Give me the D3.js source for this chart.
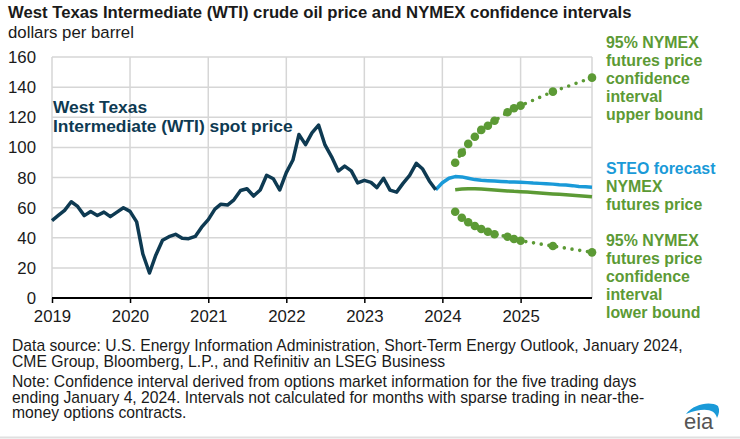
<!DOCTYPE html>
<html>
<head>
<meta charset="utf-8">
<script src="https://cdn.jsdelivr.net/npm/d3@7"></script>
<style>
  body { margin: 0; background: #fff; }
  svg { display: block; font-family: "Liberation Sans", Arial, sans-serif; }
</style>
</head>
<body>
<svg id="chart"></svg>
<script>
// monthly WTI spot price, Jan 2019 - Dec 2023
var wtiStart = '2019-01';
var wtiValues = [
  51.4, 55.0, 58.2, 63.9, 60.8, 54.7, 57.4, 54.8, 57.0, 54.0, 57.0, 59.9,
  57.5, 50.5, 29.2, 16.6, 28.6, 38.3, 40.7, 42.3, 39.6, 39.4, 40.9, 47.0,
  52.0, 59.0, 62.3, 61.7, 65.2, 71.4, 72.5, 67.7, 71.7, 81.5, 79.2, 71.7,
  83.2, 91.6, 108.5, 101.8, 109.6, 114.8, 101.6, 93.7, 84.3, 87.6, 84.4, 76.4,
  78.1, 76.8, 73.3, 79.5, 71.6, 70.3, 76.1, 81.4, 89.4, 85.6, 77.7, 71.9
];

// STEO forecast, Dec 2023 - Dec 2025
var steoStart = '2023-12';
var steoValues = [
  71.9, 76.5, 79.5, 80.6, 80.4, 79.5, 78.6, 78.1, 77.9, 77.6, 77.4, 77.1, 77.0,
  76.9, 76.6, 76.3, 76.1, 75.9, 75.6, 75.2, 75.0, 74.6, 74.1, 73.9, 73.6
];

// NYMEX futures price, Mar 2024 - Dec 2025
var nymexStart = '2024-03';
var nymexValues = [
  71.8, 72.3, 72.6, 72.6, 72.3, 72.0, 71.7, 71.4, 71.1, 70.8,
  70.6, 70.3, 70.0, 69.7, 69.4, 69.1, 68.8, 68.5, 68.2, 67.9, 67.6, 67.2
];

// 95% confidence bounds, only months with enough trading
var upperBound = [
  ['2024-03', 89.8], ['2024-04', 96.5], ['2024-05', 102.3], ['2024-06', 107.1],
  ['2024-07', 111.6], ['2024-08', 114.4], ['2024-09', 117.7], ['2024-11', 123.3],
  ['2024-12', 126.0], ['2025-01', 127.7], ['2025-06', 137.0], ['2025-12', 146.3]
];
var lowerBound = [
  ['2024-03', 57.3], ['2024-04', 53.3], ['2024-05', 50.3], ['2024-06', 47.8],
  ['2024-07', 45.8], ['2024-08', 44.0], ['2024-09', 42.3], ['2024-11', 40.7],
  ['2024-12', 39.2], ['2025-01', 38.0], ['2025-06', 34.5], ['2025-12', 30.3]
];

var yTicks = [0, 20, 40, 60, 80, 100, 120, 140, 160];
var xTicks = ['2019', '2020', '2021', '2022', '2023', '2024', '2025'];

var width = 740;
var height = 439;
var margins = { top: 57, right: 148, bottom: 141, left: 52 };

var colors = {
  wti: '#0e3a52',
  steo: '#1a9ad8',
  nymex: '#5c9a35',
  grid: '#d6d6d6',
  text: '#1a1a1a'
};

var parseMonth = d3.timeParse('%Y-%m');

function monthSeries(start, values) {
  var s = parseMonth(start);
  return values.map(function(v, i) {
    return { date: d3.timeMonth.offset(s, i), value: v };
  });
}

var wti = monthSeries(wtiStart, wtiValues);
var steo = monthSeries(steoStart, steoValues);
var nymex = monthSeries(nymexStart, nymexValues);
var upper = upperBound.map(function(d) { return { date: parseMonth(d[0]), value: d[1] }; });
var lower = lowerBound.map(function(d) { return { date: parseMonth(d[0]), value: d[1] }; });

var svg = d3.select('#chart')
  .attr('width', width)
  .attr('height', height);

var x = d3.scaleTime()
  .domain([parseMonth('2019-01'), parseMonth('2025-12')])
  .range([margins.left, width - margins.right]);

var y = d3.scaleLinear()
  .domain([0, 160])
  .range([height - margins.bottom, margins.top]);

// gridlines
var grid = svg.append('g').attr('class', 'grid');
grid.selectAll('.hgrid')
  .data(yTicks.slice(1))
  .enter().append('line')
  .attr('x1', x.range()[0]).attr('x2', x.range()[1])
  .attr('y1', function(d) { return y(d); })
  .attr('y2', function(d) { return y(d); })
  .attr('stroke', colors.grid)
  .attr('stroke-width', 1.5);

var vgrid = xTicks.map(function(d) { return parseMonth(d + '-01'); });
vgrid.push(x.domain()[1]);
grid.selectAll('.vgrid')
  .data(vgrid)
  .enter().append('line')
  .attr('x1', function(d) { return x(d); })
  .attr('x2', function(d) { return x(d); })
  .attr('y1', y(0)).attr('y2', y(160))
  .attr('stroke', colors.grid)
  .attr('stroke-width', 1.5);

// y axis labels
svg.append('g')
  .selectAll('text')
  .data(yTicks)
  .enter().append('text')
  .attr('x', 36)
  .attr('y', function(d) { return y(d) + 6; })
  .attr('text-anchor', 'end')
  .attr('font-size', 16.8)
  .attr('fill', colors.text)
  .text(function(d) { return d; });

// x axis
var xAxis = d3.axisBottom(x)
  .tickValues(xTicks.map(function(d) { return parseMonth(d + '-01'); }))
  .tickFormat(d3.timeFormat('%Y'))
  .tickSize(5)
  .tickPadding(7);

var xg = svg.append('g')
  .attr('transform', 'translate(0,' + y(0) + ')')
  .call(xAxis);
xg.select('.domain')
  .attr('d', 'M' + x.range()[0] + ',0H' + x.range()[1])
  .attr('stroke', '#000')
  .attr('stroke-width', 2);
xg.selectAll('.tick line').attr('stroke', '#000').attr('stroke-width', 1.5);
xg.selectAll('.tick text')
  .attr('font-size', 16.8)
  .attr('font-family', '"Liberation Sans", Arial, sans-serif')
  .attr('fill', colors.text);

var line = d3.line()
  .x(function(d) { return x(d.date); })
  .y(function(d) { return y(d.value); });

// confidence bounds: dotted connector + dots where calculated
[upper, lower].forEach(function(series) {
  svg.append('path')
    .datum(series)
    .attr('d', line)
    .attr('fill', 'none')
    .attr('stroke', colors.nymex)
    .attr('stroke-width', 3.6)
    .attr('stroke-linecap', 'round')
    .attr('stroke-dasharray', '0,7.8');

  svg.append('g')
    .selectAll('circle')
    .data(series)
    .enter().append('circle')
    .attr('cx', function(d) { return x(d.date); })
    .attr('cy', function(d) { return y(d.value); })
    .attr('r', 4.3)
    .attr('fill', colors.nymex);
});

svg.append('path')
  .datum(nymex)
  .attr('d', line)
  .attr('fill', 'none')
  .attr('stroke', colors.nymex)
  .attr('stroke-width', 3.5);

svg.append('path')
  .datum(steo)
  .attr('d', line)
  .attr('fill', 'none')
  .attr('stroke', colors.steo)
  .attr('stroke-width', 3.5)
  .attr('stroke-linejoin', 'round');

svg.append('path')
  .datum(wti)
  .attr('d', line)
  .attr('fill', 'none')
  .attr('stroke', colors.wti)
  .attr('stroke-width', 3.5)
  .attr('stroke-linejoin', 'round');

// labels
function multiline(lines, x0, y0, lh, fill, size, weight) {
  var t = svg.append('text')
    .attr('x', x0).attr('y', y0)
    .attr('fill', fill)
    .attr('font-size', size)
    .attr('font-weight', weight || 'normal');
  lines.forEach(function(l, i) {
    t.append('tspan')
      .attr('x', x0)
      .attr('y', y0 + i * lh)
      .attr('fill', l.fill || fill)
      .text(l.text || l);
  });
  return t;
}

svg.append('text')
  .attr('x', 8).attr('y', 18)
  .attr('font-size', 16.7)
  .attr('font-weight', 'bold')
  .attr('fill', colors.text)
  .text('West Texas Intermediate (WTI) crude oil price and NYMEX confidence intervals');

svg.append('text')
  .attr('x', 8).attr('y', 37.5)
  .attr('font-size', 16.8)
  .attr('fill', colors.text)
  .text('dollars per barrel');

multiline(['West Texas', 'Intermediate (WTI) spot price'], 53, 113, 19, colors.wti, 17.4, 'bold');

multiline(['95% NYMEX', 'futures price', 'confidence', 'interval', 'upper bound'],
  606, 48.3, 17.8, colors.nymex, 15.9, 'bold');
multiline([{ text: 'STEO forecast', fill: colors.steo }, 'NYMEX', 'futures price'],
  606, 174, 18, colors.nymex, 15.9, 'bold');
multiline(['95% NYMEX', 'futures price', 'confidence', 'interval', 'lower bound'],
  606, 246, 17.9, colors.nymex, 15.9, 'bold');

multiline([
  'Data source: U.S. Energy Information Administration, Short-Term Energy Outlook, January 2024,',
  'CME Group, Bloomberg, L.P., and Refinitiv an LSEG Business'
], 12, 351, 16, colors.text, 15.7);

multiline([
  'Note: Confidence interval derived from options market information for the five trading days',
  'ending January 4, 2024. Intervals not calculated for months with sparse trading in near-the-',
  'money options contracts.'
], 12, 387, 15.6, colors.text, 15.7);

// eia logo
var logo = svg.append('g').attr('transform', 'translate(684,412)');
logo.append('path')
  .attr('d', 'M2,2 C10,-8 26,-11 34,-6 C36,-2 35,2 33,6 C31,-3 20,-5 2,2 Z')
  .attr('fill', '#1a9ad8');
logo.append('text')
  .attr('x', 0).attr('y', 17)
  .attr('font-size', 22)
  .attr('fill', '#555')
  .text('eia');

svg.append('line')
  .attr('x1', 0).attr('x2', width)
  .attr('y1', 437.5).attr('y2', 437.5)
  .attr('stroke', '#e0e0e0')
  .attr('stroke-width', 2);
</script>
</body>
</html>
